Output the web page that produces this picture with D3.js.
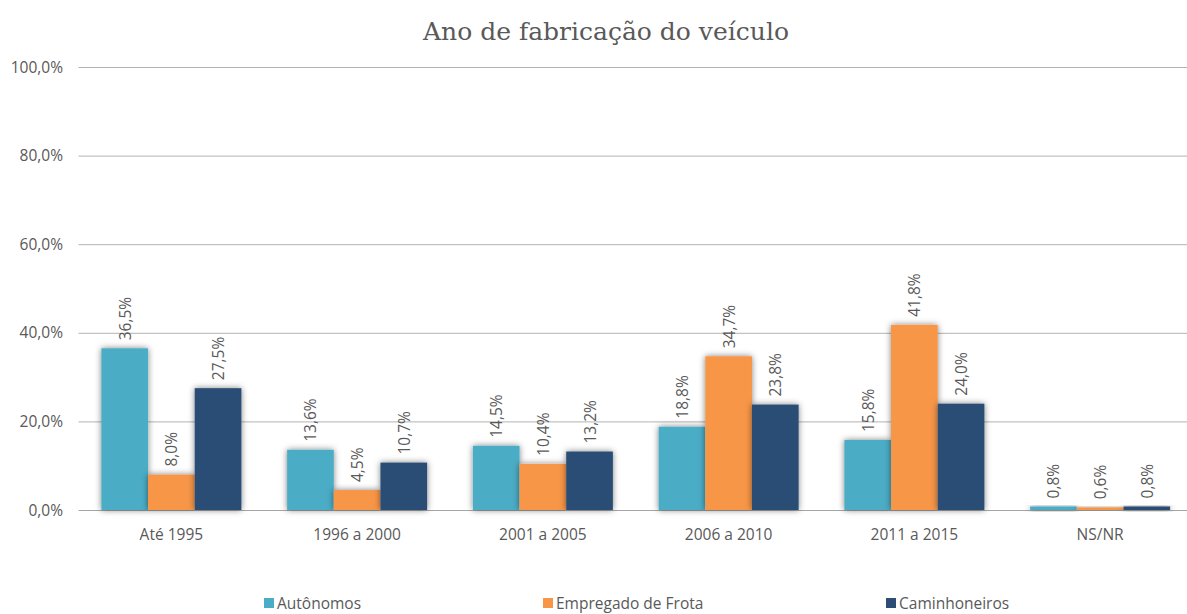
<!DOCTYPE html>
<html lang="pt">
<head>
<meta charset="UTF-8">
<title>Ano de fabricação do veículo</title>
<script src="https://d3js.org/d3.v7.min.js"></script>
<style>
  body { margin: 0; background: #fff; overflow: hidden; }
  text { fill: #595959; }
</style>
</head>
<body>
<div id="chart"></div>
<script>
const categories = ["Até 1995", "1996 a 2000", "2001 a 2005", "2006 a 2010", "2011 a 2015", "NS/NR"]
const seriesNames = ["Autônomos", "Empregado de Frota", "Caminhoneiros"]
const autonomos = [36.5, 13.6, 14.5, 18.8, 15.8, 0.8]
const empregado = [8.0, 4.5, 10.4, 34.7, 41.8, 0.6]
const caminhoneiros = [27.5, 10.7, 13.2, 23.8, 24.0, 0.8]
const yTicks = [0, 20, 40, 60, 80, 100]
const colors = ["#4bacc6", "#f79646", "#2c4d75"]

const width = 1187
const height = 614
const plotLeft = 78.5, plotRight = 1193, plotTop = 67, plotBottom = 510

const values = [autonomos, empregado, caminhoneiros]
const data = []
categories.forEach((c, i) => {
    values.forEach((s, j) => data.push({cat: c, serie: seriesNames[j], value: s[i], k: j}))
})

const fmt = v => v.toFixed(1).replace(".", ",") + "%"

const x = d3.scaleBand().domain(categories).range([plotLeft, plotRight])
const xInner = d3.scaleBand().domain(seriesNames).range([0, x.bandwidth()]).paddingOuter(0.49).paddingInner(0)
const y = d3.scaleLinear().domain([0, 100]).range([plotBottom, plotTop])

const svg = d3.select("#chart").append("svg")
    .attr("width", width)
    .attr("height", height)
    .style("font-family", "'Open Sans', sans-serif")

const defs = svg.append("defs")
const f = defs.append("filter").attr("id", "shadow")
    .attr("x", "-30%").attr("y", "-30%").attr("width", "160%").attr("height", "160%")
f.append("feDropShadow")
    .attr("dx", 0).attr("dy", 0).attr("stdDeviation", 3)
    .attr("flood-color", "#000").attr("flood-opacity", 0.5)

svg.append("text")
    .attr("x", 606)
    .attr("y", 40)
    .style("text-anchor", "middle")
    .style("font-family", "'DejaVu Serif', serif")
    .style("font-size", "25px")
    .text("Ano de fabricação do veículo")

// gridlines
svg.append("g").selectAll("line")
    .data(yTicks)
    .join("line")
    .attr("x1", plotLeft).attr("x2", plotRight)
    .attr("y1", d => y(d) + 0.5).attr("y2", d => y(d) + 0.5)
    .attr("stroke", d => d === 0 ? "#a6a6a6" : "#b3b3b3")
    .attr("stroke-width", 1)

svg.append("g").selectAll("text")
    .data(yTicks)
    .join("text")
    .attr("x", 63)
    .attr("y", d => y(d) + 5.5)
    .style("text-anchor", "end")
    .style("font-size", "15.5px")
    .text(d => d.toFixed(1).replace(".", ",") + "%")

// bars
svg.append("g").selectAll("rect")
    .data(data)
    .join("rect")
    .attr("x", d => x(d.cat) + xInner(d.serie))
    .attr("y", d => y(d.value))
    .attr("width", xInner.bandwidth())
    .attr("height", d => plotBottom - y(d.value))
    .attr("fill", d => colors[d.k])
    .attr("filter", "url(#shadow)")

// data labels
svg.append("g").selectAll("text")
    .data(data)
    .join("text")
    .attr("transform", d => {
        const cx = x(d.cat) + xInner(d.serie) + xInner.bandwidth() / 2 + 6
        const cy = y(d.value) - 8
        return "translate(" + cx + "," + cy + ") rotate(-90)"
    })
    .style("font-size", "15.5px")
    .text(d => fmt(d.value))

// category labels
svg.append("g").selectAll("text")
    .data(categories)
    .join("text")
    .attr("x", d => x(d) + x.bandwidth() / 2)
    .attr("y", 540)
    .style("text-anchor", "middle")
    .style("font-size", "15.5px")
    .text(d => d)

// legend
const legendX = [264, 543, 886]
const lg = svg.append("g").selectAll("g")
    .data(seriesNames)
    .join("g")
    .attr("transform", (d, i) => "translate(" + legendX[i] + ",598)")
lg.append("rect")
    .attr("width", 10).attr("height", 10)
    .attr("fill", (d, i) => colors[i])
lg.append("text")
    .attr("x", 13)
    .attr("y", 11)
    .style("font-size", "15.5px")
    .text(d => d)
</script>
</body>
</html>
